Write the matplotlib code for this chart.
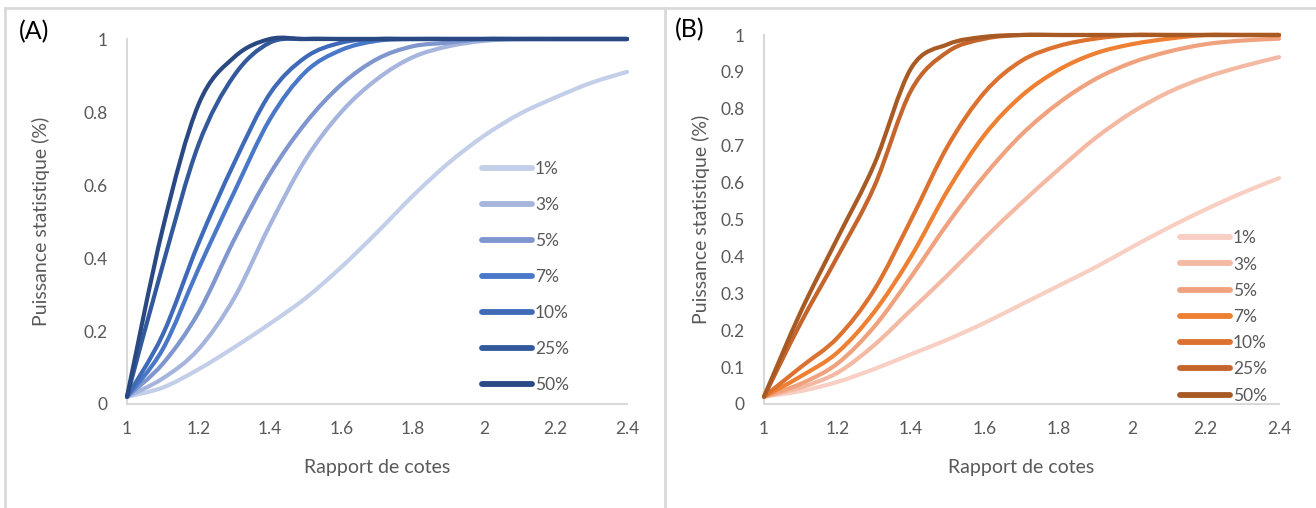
import matplotlib
matplotlib.use("Agg")
import matplotlib.pyplot as plt
from matplotlib.path import Path
from matplotlib.patches import PathPatch
from matplotlib.lines import Line2D

plt.rcParams['font.family'] = ['Lato', 'DejaVu Sans']

# ---------------- data ----------------
odds_ratio = [1.0, 1.1, 1.2, 1.3, 1.4, 1.5, 1.6, 1.7, 1.8, 1.9, 2.0, 2.1, 2.2, 2.3, 2.4]
series_labels = ["1%", "3%", "5%", "7%", "10%", "25%", "50%"]

# Panel A
a_1 = [0.02, 0.045, 0.095, 0.155, 0.22, 0.29, 0.375, 0.47, 0.57, 0.66, 0.735, 0.795, 0.84, 0.88, 0.91]
a_3 = [0.02, 0.07, 0.15, 0.29, 0.49, 0.67, 0.80, 0.89, 0.95, 0.98, 0.995, 1.0, 1.0, 1.0, 1.0]
a_5 = [0.02, 0.11, 0.25, 0.45, 0.63, 0.77, 0.875, 0.945, 0.98, 0.99, 1.0, 1.0, 1.0, 1.0, 1.0]
a_7 = [0.02, 0.15, 0.37, 0.58, 0.78, 0.91, 0.97, 0.995, 1.0, 1.0, 1.0, 1.0, 1.0, 1.0, 1.0]
a_10 = [0.02, 0.19, 0.44, 0.66, 0.85, 0.95, 0.99, 1.0, 1.0, 1.0, 1.0, 1.0, 1.0, 1.0, 1.0]
a_25 = [0.02, 0.38, 0.71, 0.90, 0.99, 1.0, 1.0, 1.0, 1.0, 1.0, 1.0, 1.0, 1.0, 1.0, 1.0]
a_50 = [0.02, 0.48, 0.82, 0.95, 1.0, 1.0, 1.0, 1.0, 1.0, 1.0, 1.0, 1.0, 1.0, 1.0, 1.0]

# Panel B
b_1 = [0.02, 0.035, 0.06, 0.095, 0.135, 0.175, 0.22, 0.27, 0.32, 0.37, 0.425, 0.478, 0.527, 0.572, 0.612]
b_3 = [0.02, 0.045, 0.085, 0.16, 0.255, 0.35, 0.45, 0.545, 0.635, 0.72, 0.79, 0.845, 0.885, 0.915, 0.94]
b_5 = [0.02, 0.055, 0.11, 0.21, 0.345, 0.49, 0.62, 0.73, 0.815, 0.88, 0.925, 0.955, 0.975, 0.985, 0.99]
b_7 = [0.02, 0.075, 0.14, 0.25, 0.40, 0.58, 0.73, 0.835, 0.905, 0.95, 0.975, 0.99, 1.0, 1.0, 1.0]
b_10 = [0.02, 0.10, 0.18, 0.31, 0.50, 0.70, 0.845, 0.93, 0.97, 0.99, 1.0, 1.0, 1.0, 1.0, 1.0]
b_25 = [0.02, 0.22, 0.40, 0.59, 0.85, 0.955, 0.99, 1.0, 1.0, 1.0, 1.0, 1.0, 1.0, 1.0, 1.0]
b_50 = [0.02, 0.25, 0.45, 0.65, 0.91, 0.975, 0.995, 1.0, 1.0, 1.0, 1.0, 1.0, 1.0, 1.0, 1.0]

panel_a = [a_1, a_3, a_5, a_7, a_10, a_25, a_50]
panel_b = [b_1, b_3, b_5, b_7, b_10, b_25, b_50]

blues = ['#C3CEE8', '#A6B5DD', '#7F96CF', '#4A78C8', '#3F6AB8', '#33599D', '#2A4882']
oranges = ['#F8CFC2', '#F4B9A2', '#F0A27F', '#EE8033', '#DC7130', '#C5652C', '#A85A24']

GRAY_TXT = '#595959'
AX_GRAY = '#D9D9D9'


def smooth_path(xs, ys):
    """Excel-like smoothed line: cubic Bezier through the data points."""
    n = len(xs)
    verts = [(xs[0], ys[0])]
    codes = [Path.MOVETO]
    for i in range(n - 1):
        x0, y0 = xs[max(i - 1, 0)], ys[max(i - 1, 0)]
        x1, y1 = xs[i], ys[i]
        x2, y2 = xs[i + 1], ys[i + 1]
        x3, y3 = xs[min(i + 2, n - 1)], ys[min(i + 2, n - 1)]
        c1 = (x1 + (x2 - x0) / 6.0, y1 + (y2 - y0) / 6.0)
        c2 = (x2 - (x3 - x1) / 6.0, y2 - (y3 - y1) / 6.0)
        verts += [c1, c2, (x2, y2)]
        codes += [Path.CURVE4] * 3
    return Path(verts, codes)


fig = plt.figure(figsize=(13.16, 5.08), dpi=100)

# panel borders
for seg in [([5 / 1316, 1.0], [1 - 8 / 508, 1 - 8 / 508]),
            ([5 / 1316, 5 / 1316], [0.0, 1 - 8 / 508]),
            ([665 / 1316, 665 / 1316], [0.0, 1 - 8 / 508])]:
    fig.add_artist(Line2D(seg[0], seg[1], transform=fig.transFigure,
                          color=AX_GRAY, lw=2))


def make_panel(rect, data, colors, yticks, ylabels, legend_xy, labelspacing, tag, tag_xy, ylab_x):
    ax = fig.add_axes(rect)
    handles = []
    for vals, col, lab in zip(data, colors, series_labels):
        patch = PathPatch(smooth_path(odds_ratio, vals), facecolor='none',
                          edgecolor=col, lw=3.0, capstyle='round',
                          joinstyle='round', clip_on=False, zorder=3)
        ax.add_patch(patch)
        handles.append(Line2D([], [], color=col, lw=4.2, solid_capstyle='round', label=lab))
    ax.set_xlim(1.0, 2.4)
    ax.set_ylim(0, 1)
    ax.set_xticks([1, 1.2, 1.4, 1.6, 1.8, 2, 2.2, 2.4])
    ax.set_xticklabels(['1', '1.2', '1.4', '1.6', '1.8', '2', '2.2', '2.4'])
    ax.set_yticks(yticks)
    ax.set_yticklabels(ylabels)
    for s in ['top', 'right']:
        ax.spines[s].set_visible(False)
    for s in ['left', 'bottom']:
        ax.spines[s].set_color(AX_GRAY)
        ax.spines[s].set_linewidth(1.5)
    ax.tick_params(axis='both', length=0, labelsize=12.5, labelcolor=GRAY_TXT)
    ax.tick_params(axis='y', pad=14)
    ax.tick_params(axis='x', pad=12)
    ax.set_xlabel('Rapport de cotes', fontsize=14, color=GRAY_TXT, labelpad=16)
    ax.set_ylabel('Puissance statistique (%)', fontsize=14, color=GRAY_TXT,
                  va='center', rotation_mode='anchor')
    ax.yaxis.set_label_coords(ylab_x, rect[1] + rect[3] / 2, transform=fig.transFigure)
    leg = fig.legend(handles=handles, loc='center left', bbox_to_anchor=legend_xy,
                     frameon=False, fontsize=12.5, handlelength=2.9,
                     handletextpad=0.15, labelspacing=labelspacing,
                     borderpad=0, borderaxespad=0)
    for t in leg.get_texts():
        t.set_color(GRAY_TXT)
    fig.text(tag_xy[0], tag_xy[1], tag, fontsize=18, color='black',
             ha='center', va='center')
    return ax


make_panel([127 / 1316, 1 - 404 / 508, 500 / 1316, 365 / 508], panel_a, blues,
           [0, 0.2, 0.4, 0.6, 0.8, 1.0], ['0', '0.2', '0.4', '0.6', '0.8', '1'],
           (482 / 1316, 1 - 277 / 508), 1.15, '(A)', (34 / 1316, 1 - 32 / 508),
           41 / 1316)

make_panel([764 / 1316, 1 - 404 / 508, 515 / 1316, 369 / 508], panel_b, oranges,
           [0, 0.1, 0.2, 0.3, 0.4, 0.5, 0.6, 0.7, 0.8, 0.9, 1.0],
           ['0', '0.1', '0.2', '0.3', '0.4', '0.5', '0.6', '0.7', '0.8', '0.9', '1'],
           (1180 / 1316, 1 - 317 / 508), 0.59, '(B)', (690 / 1316, 1 - 30 / 508),
           701 / 1316)

fig.savefig('out.png', dpi=100)
